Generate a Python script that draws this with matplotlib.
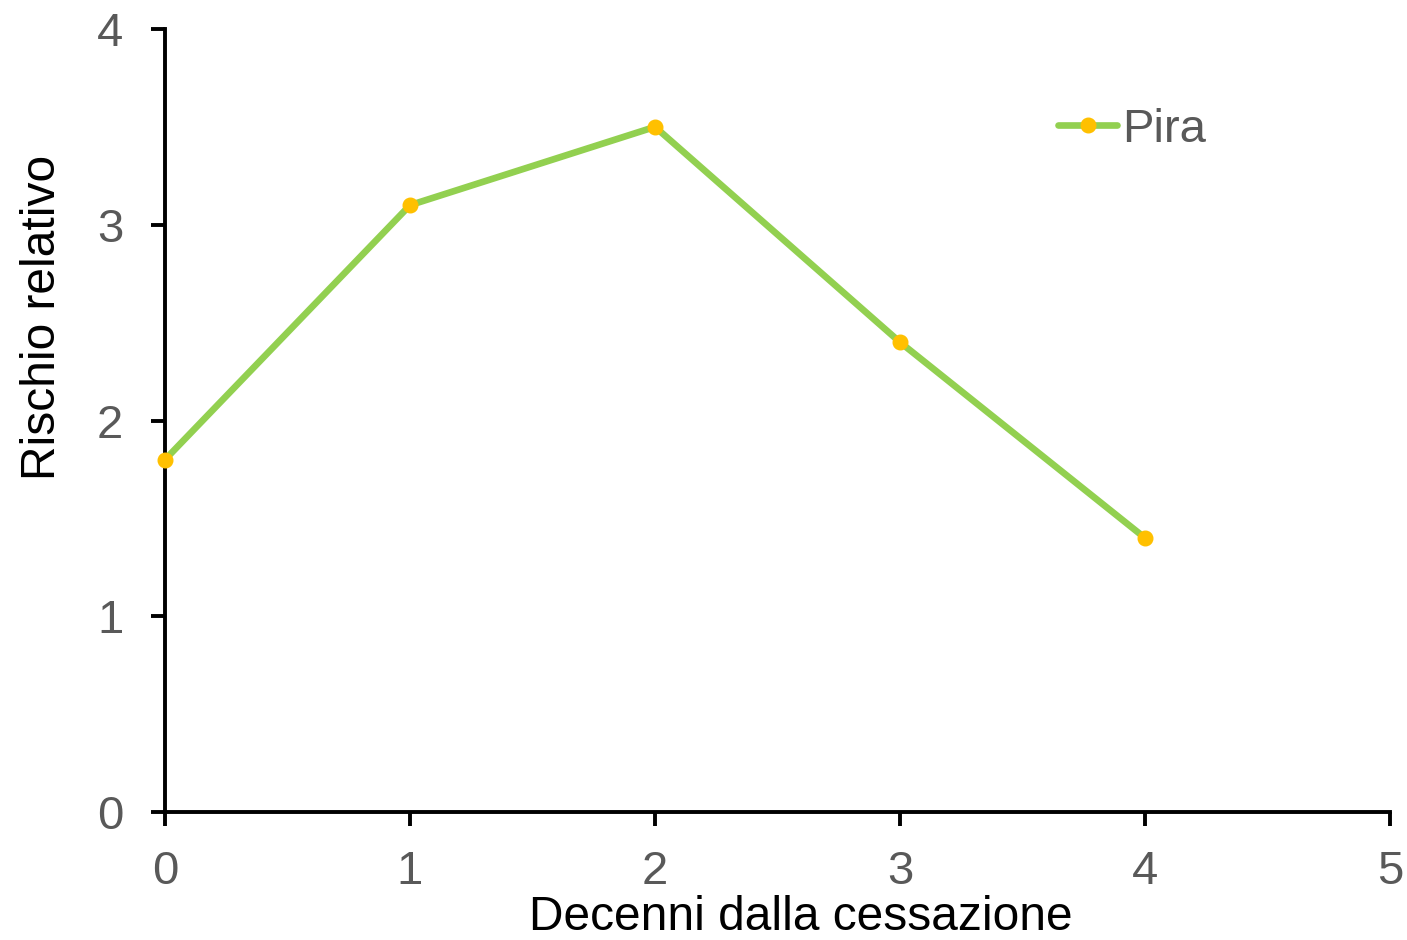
import matplotlib
matplotlib.use("Agg")
import matplotlib.pyplot as plt

plt.rcParams['font.family'] = ['Liberation Sans', 'DejaVu Sans']

decades = [0, 1, 2, 3, 4]
relative_risk = [1.8, 3.1, 3.5, 2.4, 1.4]
series_name = "Pira"
x_ticks = [0, 1, 2, 3, 4, 5]
y_ticks = [0, 1, 2, 3, 4]

fig = plt.figure(figsize=(14.07, 9.40), dpi=100)
ax = fig.add_axes([165/1407, 128/940, 1225/1407, 783/940])

ax.plot(decades, relative_risk, color='#92D050', linewidth=4.8,
        marker='o', markersize=10.5, markerfacecolor='#FFC000',
        markeredgecolor='#FFC000', label=series_name, solid_capstyle='round',
        clip_on=False, zorder=3)

ax.set_xlim(0, 5)
ax.set_ylim(0, 4)
ax.set_xticks(x_ticks)
ax.set_yticks(y_ticks)

for side in ['top', 'right']:
    ax.spines[side].set_visible(False)
for side in ['left', 'bottom']:
    ax.spines[side].set_linewidth(2.8)
    ax.spines[side].set_color('black')

ax.tick_params(axis='both', direction='out', length=10, width=2.8,
               colors='black', labelcolor='#595959', labelsize=34)
ax.tick_params(axis='x', pad=17)
ax.tick_params(axis='y', pad=20)

ax.set_xlabel("Decenni dalla cessazione", fontsize=34.5, color='black', labelpad=0)
ax.xaxis.set_label_coords(0.519, -0.106)
ax.set_ylabel("Rischio relativo", fontsize=34.5, color='black')
ax.yaxis.set_label_coords(-0.082, 0.631)

leg = ax.legend(loc='center left', bbox_to_anchor=(0.729, 0.871), frameon=False,
                fontsize=34, handlelength=1.25, handletextpad=0.1,
                labelcolor='#595959', borderpad=0, borderaxespad=0)

fig.savefig("out.png", dpi=100)
